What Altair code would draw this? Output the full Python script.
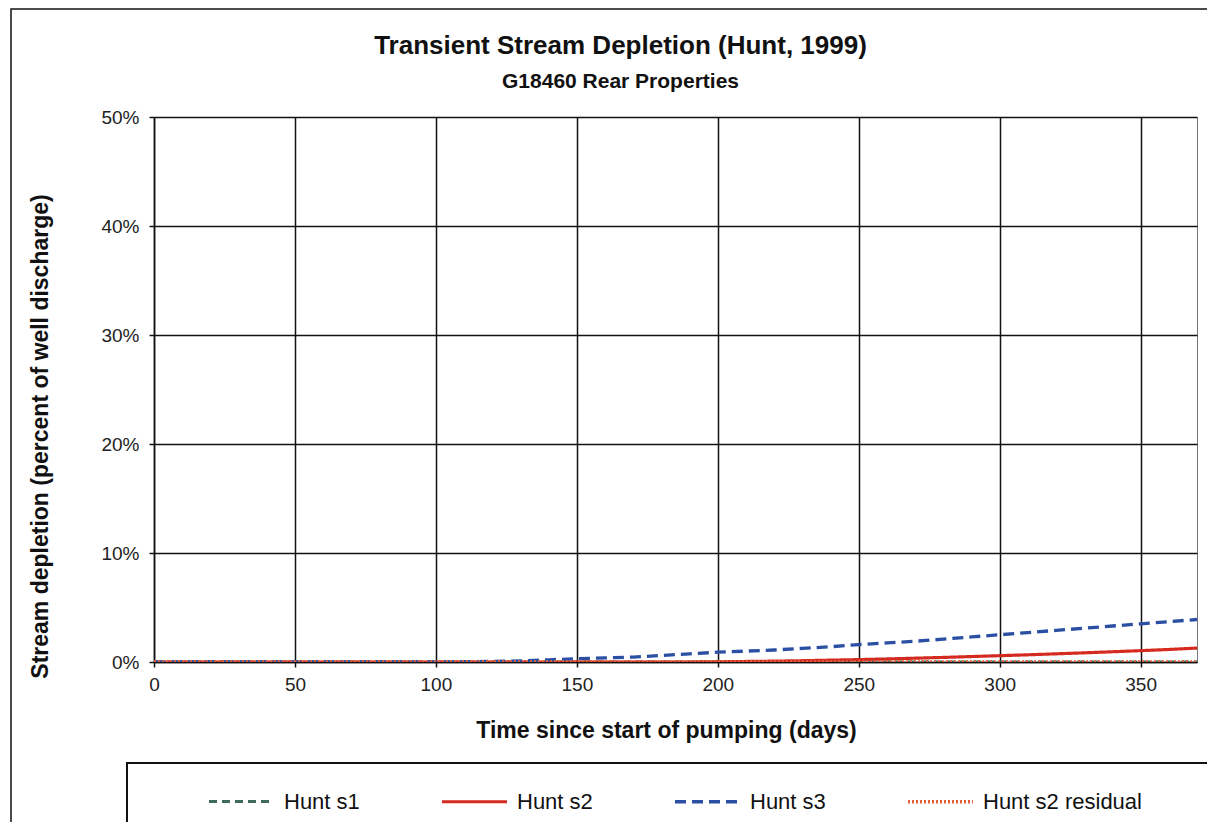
import altair as alt
import pandas as pd

# ---- data ----
days = [0, 10, 20, 30, 40, 50, 60, 70, 80, 90, 100, 110, 120, 130, 140, 150, 160, 170, 180,
        190, 200, 210, 220, 230, 240, 250, 260, 270, 280, 290, 300, 310, 320, 330, 340, 350, 360, 370]

hunt_s1 = [0.0, 0.0, 0.0, 0.0, 0.0, 0.0, 0.0, 0.0, 0.0, 0.0, 0.0, 0.0, 0.0, 0.0, 0.0, 0.0, 0.0, 0.0, 0.0,
           0.0, 0.0, 0.0, 0.0, 0.0, 0.0, 0.0, 0.0, 0.0, 0.0, 0.0, 0.0, 0.01, 0.01, 0.01, 0.01, 0.01, 0.01, 0.01]

hunt_s2 = [0.0, 0.0, 0.0, 0.0, 0.0, 0.0, 0.0, 0.0, 0.0, 0.0, 0.0, 0.0, 0.0, 0.0, 0.0, 0.0, 0.0, 0.0, 0.0,
           0.0, 0.02, 0.05, 0.08, 0.12, 0.17, 0.22, 0.28, 0.35, 0.42, 0.5, 0.58, 0.66, 0.75, 0.84, 0.94, 1.04, 1.15, 1.28]

hunt_s3 = [0.0, 0.0, 0.0, 0.0, 0.0, 0.0, 0.0, 0.0, 0.0, 0.0, 0.0, 0.02, 0.05, 0.1, 0.2, 0.3, 0.38, 0.45, 0.6,
           0.75, 0.9, 1.0, 1.1, 1.25, 1.4, 1.6, 1.75, 1.9, 2.1, 2.3, 2.5, 2.7, 2.9, 3.1, 3.3, 3.5, 3.7, 3.9]

hunt_s2_residual = [0.0, 0.0, 0.0, 0.0, 0.0, 0.0, 0.0, 0.0, 0.0, 0.0, 0.0, 0.0, 0.0, 0.0, 0.0, 0.0, 0.0, 0.0, 0.0,
                    0.0, 0.0, 0.0, 0.0, 0.0, 0.0, 0.0, 0.0, 0.0, 0.0, 0.0, 0.0, 0.0, 0.0, 0.0, 0.0, 0.0, 0.0, 0.0]

series_names = ["Hunt s1", "Hunt s2", "Hunt s3", "Hunt s2 residual"]
series_values = [hunt_s1, hunt_s2, hunt_s3, hunt_s2_residual]
series_colors = ["#3f6b5a", "#d42a1f", "#2b4fa3", "#e2603c"]
series_dashes = [[8, 5], [1, 0], [11, 6], [2, 2]]
series_widths = [3, 3.5, 3.5, 1.5]

x_ticks = [0, 50, 100, 150, 200, 250, 300, 350]
y_ticks = [0, 10, 20, 30, 40, 50]

rows = []
for name, vals in zip(series_names, series_values):
    for d, v in zip(days, vals):
        rows.append({"day": d, "depletion": v, "series": name})
df = pd.DataFrame(rows)

FONT = "Liberation Sans"

leg = alt.Legend(
    title=None, orient="none", legendX=53, legendY=650, direction="horizontal", columns=4,
    columnPadding=75, symbolType="stroke", symbolSize=4225, labelFontSize=22, labelFont=FONT,
    labelColor="#111", labelOffset=8, padding=0,
)

lines = alt.Chart(df).mark_line(clip=True).encode(
    x=alt.X("day:Q", scale=alt.Scale(domain=[0, 370], nice=False),
            axis=alt.Axis(values=x_ticks, title="Time since start of pumping (days)",
                          titleX=512, titleY=68, titleBaseline="middle")),
    y=alt.Y("depletion:Q", scale=alt.Scale(domain=[0, 50], nice=False),
            axis=alt.Axis(values=y_ticks, labelExpr="datum.value + '%'",
                          title="Stream depletion (percent of well discharge)",
                          titleX=-114, titleY=319, titleAngle=-90, titleBaseline="middle",
                          titleAlign="center")),
    color=alt.Color("series:N", scale=alt.Scale(domain=series_names, range=series_colors), legend=leg),
    strokeDash=alt.StrokeDash("series:N", scale=alt.Scale(domain=series_names, range=series_dashes), legend=leg),
    strokeWidth=alt.StrokeWidth("series:N", scale=alt.Scale(domain=series_names, range=series_widths), legend=leg),
)

frame_df = pd.DataFrame({"k": [0]})
outer_frame = alt.Chart(frame_df).mark_rect(fillOpacity=0, stroke="#111", strokeWidth=1.5).encode(
    x=alt.value(-143), x2=alt.value(1080), y=alt.value(-108), y2=alt.value(740)
)
legend_box = alt.Chart(frame_df).mark_rect(fillOpacity=0, stroke="#111", strokeWidth=2).encode(
    x=alt.value(-27), x2=alt.value(1062), y=alt.value(646), y2=alt.value(740)
)

chart = alt.layer(outer_frame, legend_box, lines).properties(
    width=1043,
    height=545,
    autosize=alt.AutoSizeParams(type="none"),
    padding={"left": 146, "top": 109, "right": 10, "bottom": 160},
    background="white",
    title=alt.TitleParams(
        text="Transient Stream Depletion (Hunt, 1999)",
        subtitle="G18460 Rear Properties",
        anchor="middle", dx=-55, font=FONT, fontSize=26, fontWeight="bold", color="#111",
        subtitleFont=FONT, subtitleFontSize=21, subtitleFontWeight="bold", subtitleColor="#111",
        subtitlePadding=12, offset=-84,
    ),
).configure_view(
    stroke="#777", strokeWidth=1
).configure_axis(
    grid=True, gridColor="#111", gridWidth=1.5, gridOpacity=1,
    domainColor="#111", domainWidth=1.5, tickColor="#111", tickSize=5, tickWidth=1.5,
    labelFont=FONT, labelFontSize=19, labelColor="#222",
    titleFont=FONT, titleFontSize=23, titleFontWeight="bold", titleColor="#111",
).configure_axisY(
    labelPadding=10
).configure_axisX(
    labelPadding=8, labelFlush=False
)

chart.save("out.html", embed_options={"renderer": "svg", "actions": False})
